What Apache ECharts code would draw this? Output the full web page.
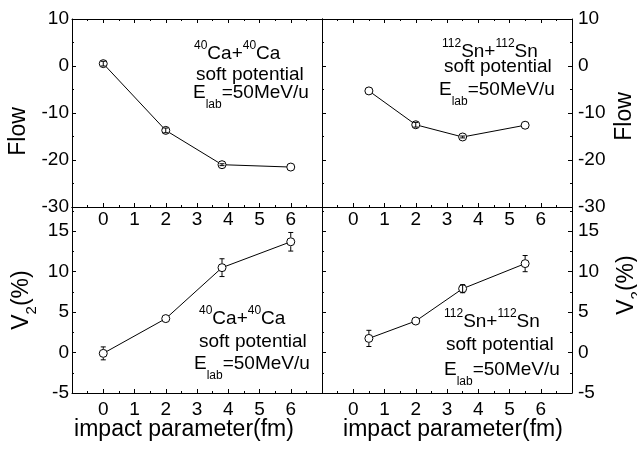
<!DOCTYPE html>
<html>
<head>
<meta charset="utf-8">
<script src="https://cdn.jsdelivr.net/npm/echarts@6/dist/echarts.min.js"></script>
<style>
html,body{margin:0;padding:0;background:#fff;}
#chart{width:637px;height:450px;}
</style>
</head>
<body>
<div id="chart"></div>
<script>
// ---- data ----
const caB = [0, 2, 3.8, 6];
const caFlow = [0.5, -13.7, -21.0, -21.5];
const caFlowErr = [0.5, 0.5, 0.2, 0];
const caV2 = [-0.1, 4.2, 10.5, 13.7];
const caV2Err = [0.8, 0, 1.1, 1.15];

const snB = [0.5, 2, 3.5, 5.5];
const snFlow = [-5.3, -12.5, -15.1, -12.6];
const snFlowErr = [0, 0.5, 0.2, 0];
const snV2 = [1.75, 3.9, 7.9, 11.0];
const snV2Err = [1.0, 0, 0.5, 1.0];

const xTicks = [0, 1, 2, 3, 4, 5, 6];
const xRange = [-1, 7];
const flowTicks = [-30, -20, -10, 0, 10];
const v2Ticks = [-5, 0, 5, 10, 15];
const v2Range = [-5, 18];

const FONT = "'Liberation Sans', Arial, sans-serif";
const BLACK = '#000';

const grids = [
  {left: 72, top: 19, width: 250, height: 188},
  {left: 322, top: 19, width: 250, height: 188},
  {left: 72, top: 207, width: 250, height: 186},
  {left: 322, top: 207, width: 250, height: 186}
].map(g => Object.assign({containLabel: false, outerBoundsMode: 'none', show: false}, g));

function lbl(ticks, margin) {
  return {
    show: true, margin: margin, color: BLACK, fontSize: 19, fontFamily: FONT,
    formatter: v => ticks.indexOf(Math.round(v * 1000) / 1000) >= 0 ? String(v) : ''
  };
}
function xAx(gi, pos, showLabel, showTick, margin) {
  return {
    type: 'value', gridIndex: gi, position: pos, min: xRange[0], max: xRange[1], interval: 1,
    axisLine: {show: true, onZero: false, lineStyle: {color: BLACK, width: 1}},
    axisTick: {show: showTick, inside: true, length: 4, lineStyle: {color: BLACK, width: 1}},
    minorTick: {show: showTick, splitNumber: 2, length: 2, lineStyle: {color: BLACK, width: 1}},
    axisLabel: showLabel ? lbl(xTicks, margin) : {show: false},
    splitLine: {show: false}, minorSplitLine: {show: false}
  };
}
function yAx(gi, pos, range, interval, ticks, showLabel, showTick, margin) {
  return {
    type: 'value', gridIndex: gi, position: pos, min: range[0], max: range[1], interval: interval,
    axisLine: {show: true, onZero: false, lineStyle: {color: BLACK, width: 1}},
    axisTick: {show: showTick, inside: true, length: 4, lineStyle: {color: BLACK, width: 1}},
    minorTick: {show: showTick, splitNumber: 2, length: 2, lineStyle: {color: BLACK, width: 1}},
    axisLabel: showLabel ? lbl(ticks, margin) : {show: false},
    splitLine: {show: false}, minorSplitLine: {show: false}
  };
}
const flowRange = [flowTicks[0], flowTicks[flowTicks.length - 1]];

const xAxis = [
  xAx(0, 'bottom', true, true, 3), xAx(0, 'top', false, true, 0),
  xAx(1, 'bottom', true, true, 3), xAx(1, 'top', false, true, 0),
  xAx(2, 'bottom', true, true, 7), xAx(2, 'top', false, false, 0),
  xAx(3, 'bottom', true, true, 7), xAx(3, 'top', false, false, 0)
];
const yAxis = [
  yAx(0, 'left', flowRange, 10, flowTicks, true, true, 3), yAx(0, 'right', flowRange, 10, flowTicks, false, false, 0),
  yAx(1, 'right', flowRange, 10, flowTicks, true, true, 6), yAx(1, 'left', flowRange, 10, flowTicks, false, true, 0),
  yAx(2, 'left', v2Range, 5, v2Ticks, true, true, 3), yAx(2, 'right', v2Range, 5, v2Ticks, false, false, 0),
  yAx(3, 'right', v2Range, 5, v2Ticks, true, true, 6), yAx(3, 'left', v2Range, 5, v2Ticks, false, true, 0)
];

function errRender(params, api) {
  const x = api.value(0), y = api.value(1), e = api.value(2);
  if (!e) return null;
  const c = api.coord([x, y]), hi = api.coord([x, y + e]), lo = api.coord([x, y - e]);
  const r = 4.5, w = 2.5;
  const st = {stroke: BLACK, lineWidth: 1, fill: null};
  const ch = [];
  if (c[1] - hi[1] <= r) {
    ch.push({type: 'line', shape: {x1: c[0], y1: hi[1], x2: c[0], y2: lo[1]}, style: st});
  } else {
    ch.push({type: 'line', shape: {x1: c[0], y1: hi[1], x2: c[0], y2: c[1] - r}, style: st});
    ch.push({type: 'line', shape: {x1: c[0], y1: c[1] + r, x2: c[0], y2: lo[1]}, style: st});
  }
  ch.push({type: 'line', shape: {x1: c[0] - w, y1: hi[1], x2: c[0] + w, y2: hi[1]}, style: st});
  ch.push({type: 'line', shape: {x1: c[0] - w, y1: lo[1], x2: c[0] + w, y2: lo[1]}, style: st});
  return {type: 'group', children: ch};
}

function panelSeries(axisIdx, xs, ys, es) {
  return [
    {
      type: 'line', xAxisIndex: axisIdx, yAxisIndex: axisIdx,
      data: xs.map((x, i) => [x, ys[i]]),
      symbol: 'circle', symbolSize: 8, showSymbol: true,
      lineStyle: {color: BLACK, width: 1},
      itemStyle: {color: '#fff', borderColor: BLACK, borderWidth: 1},
      z: 2, animation: false, silent: true
    },
    {
      type: 'custom', xAxisIndex: axisIdx, yAxisIndex: axisIdx,
      data: xs.map((x, i) => [x, ys[i], es[i]]),
      encode: {x: 0, y: 1},
      renderItem: errRender, z: 3, animation: false, silent: true
    }
  ];
}

const series = [].concat(
  panelSeries(0, caB, caFlow, caFlowErr),
  panelSeries(2, snB, snFlow, snFlowErr),
  panelSeries(4, caB, caV2, caV2Err),
  panelSeries(6, snB, snV2, snV2Err)
);

// ---- text ----
const richAnno = {
  m: {fontSize: 19, fontFamily: FONT, color: BLACK, lineHeight: 28},
  sup: {fontSize: 12, fontFamily: FONT, color: BLACK, lineHeight: 12, verticalAlign: 'top'},
  m2: {fontSize: 19, fontFamily: FONT, color: BLACK, lineHeight: 36},
  sub: {fontSize: 12, fontFamily: FONT, color: BLACK, lineHeight: 12, verticalAlign: 'bottom'}
};
function txt(x, y, text, opts) {
  return Object.assign({
    type: 'text', x: x, y: y, silent: true, z: 10,
    style: {text: text, rich: richAnno, fontSize: 19, fontFamily: FONT, fill: BLACK, align: 'left', verticalAlign: 'middle'}
  }, opts || {});
}
function anno(x1, y1, x2, y2, x3, y3, nuc) {
  return [
    txt(x1, y1, '{sup|' + nuc[0] + '}{m|' + nuc[1] + '+}{sup|' + nuc[0] + '}{m|' + nuc[1] + '}'),
    txt(x2, y2, 'soft potential'),
    txt(x3, y3, '{m2|E}{sub|lab}{m2|=50MeV/u}')
  ];
}
const richTitle = {
  t: {fontSize: 23, fontFamily: FONT, color: BLACK, lineHeight: 34},
  s: {fontSize: 15, fontFamily: FONT, color: BLACK, lineHeight: 15, verticalAlign: 'bottom'}
};
function title(x, y, text, rot) {
  return {
    type: 'text', x: x, y: y, rotation: rot, silent: true, z: 10,
    style: {text: text, rich: richTitle, fontSize: 23, fontFamily: FONT, fill: BLACK, align: 'center', verticalAlign: 'middle'}
  };
}

const graphic = [].concat(
  anno(194, 53.5, 196, 75, 193, 93, ['40', 'Ca']),
  anno(442, 51.5, 444, 66.5, 439, 90, ['112', 'Sn']),
  anno(199, 318.5, 199, 341.5, 194, 363.5, ['40', 'Ca']),
  anno(444, 321.5, 446, 345, 444, 370, ['112', 'Sn']),
  [
    title(18.5, 131.5, '{t|Flow}', Math.PI / 2),
    title(625, 116.5, '{t|Flow}', Math.PI / 2),
    title(22, 300, '{t|V}{s|2}{t|(%)}', Math.PI / 2),
    title(627, 285, '{t|V}{s|2}{t|(%)}', Math.PI / 2),
    title(184, 430, '{t|impact parameter(fm)}', 0),
    title(453, 430, '{t|impact parameter(fm)}', 0)
  ]
);

const chart = echarts.init(document.getElementById('chart'), null, {renderer: 'canvas'});
chart.setOption({
  backgroundColor: '#fff',
  animation: false,
  textStyle: {fontFamily: FONT},
  grid: grids,
  xAxis: xAxis,
  yAxis: yAxis,
  series: series,
  graphic: graphic
});
</script>
</body>
</html>
